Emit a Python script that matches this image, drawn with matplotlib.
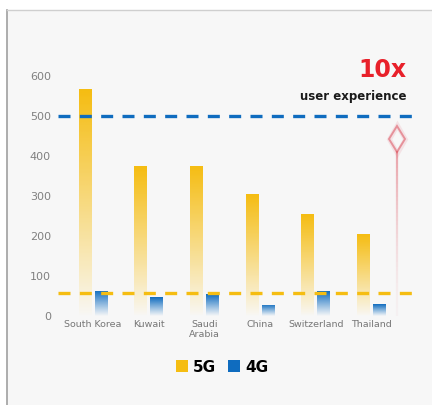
import numpy as np
import matplotlib
matplotlib.use('Agg')
import matplotlib.pyplot as plt
from matplotlib.colors import LinearSegmentedColormap
from matplotlib.lines import Line2D
from matplotlib.patches import Patch

countries = ['South Korea', 'Kuwait', 'Saudi\nArabia', 'China', 'Switzerland', 'Thailand']
speed_5g = [567, 375, 376, 305, 255, 205]
speed_4g = [63, 47, 54, 28, 62, 30]
avg_5g_line = 500
avg_4g_line = 58
yticks = [0, 100, 200, 300, 400, 500, 600]

BG = '#f7f7f7'
YELLOW = '#f5bd12'
BLUE = '#0f6cbf'

fig = plt.figure(figsize=(4.32, 4.05), dpi=100)
fig.patch.set_facecolor('white')

# panel background + frame
fig.add_artist(plt.Rectangle((7 / 432, 0), 1, 395 / 405, transform=fig.transFigure,
                             facecolor=BG, edgecolor='none', zorder=-10))
fig.add_artist(Line2D([7 / 432, 7 / 432], [0, 395 / 405], transform=fig.transFigure,
                      color='#a0a0a0', lw=1.2))
fig.add_artist(Line2D([7 / 432, 1], [395 / 405, 395 / 405], transform=fig.transFigure,
                      color='#cfcfcf', lw=1.0))

ax = fig.add_axes([58 / 432, (405 - 316) / 405, 355 / 432, 260 / 405])
ax.set_facecolor('none')
x = np.arange(len(countries))
ax.set_xlim(-0.63, 5.75)
ax.set_ylim(0, 650)


def gradient_bars(bars, color, fade=0.6):
    cmap = LinearSegmentedColormap.from_list('g', ['#ffffff00', color])
    grad = 0.06 + 0.94 * np.linspace(0, 1, 256).reshape(-1, 1) ** fade
    for b in bars:
        x0, y0 = b.get_x(), b.get_y()
        w, h = b.get_width(), b.get_height()
        im = ax.imshow(grad, cmap=cmap, origin='lower', aspect='auto', vmin=0, vmax=1,
                       extent=(x0, x0 + w, y0, y0 + h), zorder=2)
        im.set_clip_path(b)
        b.set_facecolor('none')


w = 0.228
b5 = ax.bar(x - 0.144, speed_5g, w, color='none', edgecolor='none', zorder=2)
b4 = ax.bar(x + 0.144, speed_4g, w, color='none', edgecolor='none', zorder=2)
gradient_bars(b5, YELLOW, 0.5)
gradient_bars(b4, BLUE, 0.55)

ax.axhline(avg_5g_line, color=BLUE, lw=2.4, dashes=(3.6, 2.8), zorder=3)
ax.axhline(avg_4g_line, color=YELLOW, lw=2.4, dashes=(3.6, 2.8), zorder=3)

# faded red arrow on the right
ax_x = 5.47
n = 40
ys = np.linspace(0, 412, n + 1)
for i in range(n):
    ax.plot([ax_x, ax_x], [ys[i], ys[i + 1]], color='#d7303f',
            alpha=0.03 + 0.4 * (i / n) ** 1.5, lw=1.6, solid_capstyle='butt', zorder=1)
ax.plot([ax_x], [442], marker='d', markersize=14, markerfacecolor='none',
        markeredgecolor='#e07080', markeredgewidth=3.5, alpha=0.15, zorder=1)
ax.plot([ax_x], [442], marker='d', markersize=13, markerfacecolor='none',
        markeredgecolor='#d7303f', markeredgewidth=1.4, alpha=0.45, zorder=1)

ax.text(5.63, 598, '10x', color='#e8202a', fontsize=17, fontweight='bold',
        ha='right', va='baseline')
ax.text(5.63, 540, 'user experience', color='#1a1a1a', fontsize=8.5, fontweight='bold',
        ha='right', va='baseline')

ax.set_yticks(yticks)
ax.set_yticklabels([str(v) for v in yticks], color='#808080', fontsize=8)
ax.set_xticks(x)
ax.set_xticklabels(countries, color='#777777', fontsize=6.8, linespacing=1.1, va='top')
ax.tick_params(axis='both', length=0)
ax.tick_params(axis='y', pad=5)
ax.tick_params(axis='x', pad=3)
for s in ax.spines.values():
    s.set_visible(False)

handles = [Patch(facecolor=YELLOW, edgecolor='none'), Patch(facecolor=BLUE, edgecolor='none')]
leg = fig.legend(handles, ['5G', '4G'], loc='center', bbox_to_anchor=(222 / 432, (405 - 367) / 405),
                 ncol=2, frameon=False, handlelength=0.8, handleheight=0.8, handletextpad=0.3,
                 columnspacing=0.8, prop={'weight': 'bold', 'size': 11})

fig.savefig('out.png', dpi=100, facecolor=fig.get_facecolor())
